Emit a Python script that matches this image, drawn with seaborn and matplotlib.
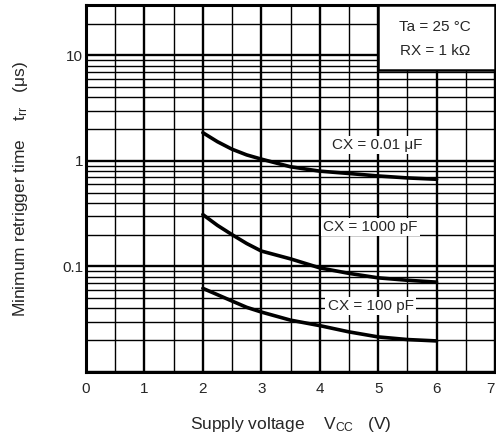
import numpy as np
import pandas as pd
import matplotlib
matplotlib.use("Agg")
import matplotlib.pyplot as plt
from matplotlib.patches import Rectangle
from matplotlib.ticker import FixedLocator, NullFormatter, FixedFormatter
import seaborn as sns

# ---- data ----
vcc = [2.0, 2.25, 2.5, 2.75, 3.0, 3.5, 4.0, 4.5, 5.0, 5.5, 6.0]
trr_cx_001uF = [1.85, 1.52, 1.29, 1.14, 1.04, 0.88, 0.80, 0.76, 0.72, 0.69, 0.67]
trr_cx_1000pF = [0.31, 0.245, 0.20, 0.165, 0.14, 0.118, 0.097, 0.086, 0.078, 0.074, 0.071]
trr_cx_100pF = [0.062, 0.054, 0.047, 0.041, 0.037, 0.031, 0.0275, 0.024, 0.0215, 0.0203, 0.0197]
series_names = ["CX = 0.01 μF", "CX = 1000 pF", "CX = 100 pF"]
x_ticks = [0, 1, 2, 3, 4, 5, 6, 7]
y_tick_values = [0.1, 1, 10]
y_tick_labels = ["0.1", "1", "10"]
cond_lines = ["Ta = 25 °C", "RX = 1 kΩ"]

n = len(vcc)
df = pd.DataFrame({
    "vcc": vcc * 3,
    "trr": trr_cx_001uF + trr_cx_1000pF + trr_cx_100pF,
    "series": [series_names[0]] * n + [series_names[1]] * n + [series_names[2]] * n,
})

sns.set_style("white")
plt.rcParams["font.family"] = ["Liberation Sans", "DejaVu Sans"]
plt.rcParams["mathtext.fontset"] = "custom"
plt.rcParams["mathtext.rm"] = "Liberation Sans"
plt.rcParams["mathtext.it"] = "Liberation Sans"

fig = plt.figure(figsize=(4.96, 4.41), dpi=100)
ax = fig.add_axes([86 / 496, (441 - 372) / 441, (495 - 86) / 496, (372 - 5) / 441])

sns.lineplot(data=df, x="vcc", y="trr", hue="series",
             palette=["black", "black", "black"], linewidth=2.6,
             legend=False, ax=ax, zorder=4)

ax.set_yscale("log")
ax.set_xlim(0, 7)
ax.set_ylim(0.01, 30)

# grid
ax.set_xticks(x_ticks, [str(v) for v in x_ticks])
ax.xaxis.set_minor_locator(FixedLocator([v + 0.5 for v in x_ticks[:-1]]))
ax.yaxis.set_major_locator(FixedLocator([0.01] + y_tick_values))
ax.yaxis.set_major_formatter(FixedFormatter([""] + y_tick_labels))
minors = []
for d in [0.01, 0.1, 1, 10]:
    for m in range(2, 10):
        if d * m < 30:
            minors.append(d * m)
ax.yaxis.set_minor_locator(FixedLocator(minors))
ax.yaxis.set_minor_formatter(NullFormatter())
ax.grid(which="major", color="black", linewidth=1.7)
ax.grid(which="minor", color="black", linewidth=1.0)
ax.set_axisbelow(True)

ax.tick_params(which="both", length=0)
ax.tick_params(axis="x", pad=7, labelsize=11)
ax.tick_params(axis="y", pad=2, labelsize=11)
ax.get_xticklabels()[-1].set_horizontalalignment("right")
for s in ax.spines.values():
    s.set_color("black")
    s.set_linewidth(2.2)

ax.set_xlabel("Supply voltage    V$_{\\mathrm{CC}}$   (V)", fontsize=12.5)
ax.xaxis.set_label_coords(0.5, -0.118)
ax.set_ylabel("Minimum retrigger time    t$_{\\mathrm{rr}}$   (μs)", fontsize=12.5)
ax.yaxis.set_label_coords(-0.137, 0.5)

# condition box
ax.add_patch(Rectangle((5, 7.2), 2, 30 - 7.2, facecolor="white", edgecolor="black",
                       linewidth=1.8, zorder=3))
ax.text(5.97, 18.5, cond_lines[0], ha="center", va="center", fontsize=11, zorder=5)
ax.text(5.97, 10.9, cond_lines[1], ha="center", va="center", fontsize=11, zorder=5)

# curve labels
bbox = dict(facecolor="white", edgecolor="none", pad=1.5)
ax.text(4.98, 1.42, series_names[0], ha="center", va="center", fontsize=11, bbox=bbox, zorder=5)
ax.text(4.87, 0.235, series_names[1], ha="center", va="center", fontsize=11, bbox=bbox, zorder=5)
ax.text(4.87, 0.0425, series_names[2], ha="center", va="center", fontsize=11, bbox=bbox, zorder=5)

fig.savefig("out.png", dpi=100)
